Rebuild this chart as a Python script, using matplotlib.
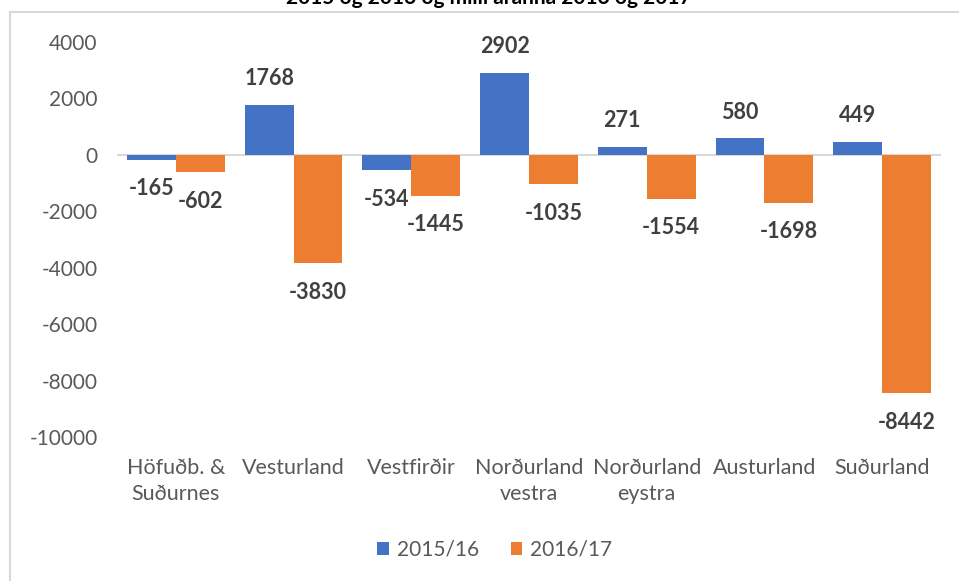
import matplotlib
matplotlib.use("Agg")
import matplotlib.pyplot as plt
import numpy as np
from matplotlib.lines import Line2D
from matplotlib.patches import Patch

categories = ["Höfuðb. &\nSuðurnes", "Vesturland", "Vestfirðir", "Norðurland\nvestra",
              "Norðurland\neystra", "Austurland", "Suðurland"]
series_names = ["2015/16", "2016/17"]
values_1516 = [-165, 1768, -534, 2902, 271, 580, 449]
values_1617 = [-602, -3830, -1445, -1035, -1554, -1698, -8442]
yticks = [4000, 2000, 0, -2000, -4000, -6000, -8000, -10000]
title = "2015 og 2016 og milli áranna 2016 og 2017"

blue = "#4472C4"
orange = "#ED7D31"
gray_txt = "#595959"

plt.rcParams['font.family'] = ['Lato', 'DejaVu Sans']

W, H = 959, 581
fig = plt.figure(figsize=(W / 100, H / 100), dpi=100)
ax = fig.add_axes([117 / W, 1 - 437 / H, (941 - 117) / W, (437 - 42) / H])

x = np.arange(len(categories))
bw = 0.415
b1 = ax.bar(x - bw / 2, values_1516, bw, color=blue, label=series_names[0], zorder=2)
b2 = ax.bar(x + bw / 2, values_1617, bw, color=orange, label=series_names[1], zorder=2)

for bars, vals in ((b1, values_1516), (b2, values_1617)):
    for rect, v in zip(bars, vals):
        cx = rect.get_x() + rect.get_width() / 2
        off = 19 if v >= 0 else -21
        ax.annotate(f"{v}", (cx, v), xytext=(0, off), textcoords="offset points",
                    ha="center", va="center", fontsize=15.5, fontweight="bold",
                    color="#404040")

ax.axhline(0, color="#d9d9d9", lw=1.5, zorder=1)
ax.set_xlim(-0.5, len(categories) - 0.5)
ax.set_ylim(-10000, 4000)
ax.set_yticks(yticks)
ax.set_yticklabels([str(t) for t in yticks], fontsize=15, color=gray_txt)
ax.set_xticks(x)
ax.set_xticklabels(categories, fontsize=15.5, color=gray_txt, linespacing=1.4, va="top")
ax.tick_params(axis="both", length=0)
ax.tick_params(axis="y", pad=14)
ax.tick_params(axis="x", pad=15)
for s in ax.spines.values():
    s.set_visible(False)

handles = [Patch(facecolor=blue), Patch(facecolor=orange)]
fig.legend(handles, series_names, loc="center", bbox_to_anchor=(495 / W, 1 - 550 / H),
           ncol=2, frameon=False, fontsize=15, handlelength=0.55, handleheight=0.55,
           handletextpad=0.4, columnspacing=1.5, labelcolor=gray_txt)

# chart border (partially visible)
fig.add_artist(Line2D([10 / W, 1.0], [1 - 11.5 / H, 1 - 11.5 / H], color="#d9d9d9", lw=1.5))
fig.add_artist(Line2D([10 / W, 10 / W], [1 - 11.5 / H, 0.0], color="#d9d9d9", lw=1.5))

fig.text(489 / W, 1 - 4 / H, title, ha="center", va="baseline", fontsize=15,
         fontweight="bold", color="black")

fig.savefig("out.png", dpi=100, facecolor="white")
